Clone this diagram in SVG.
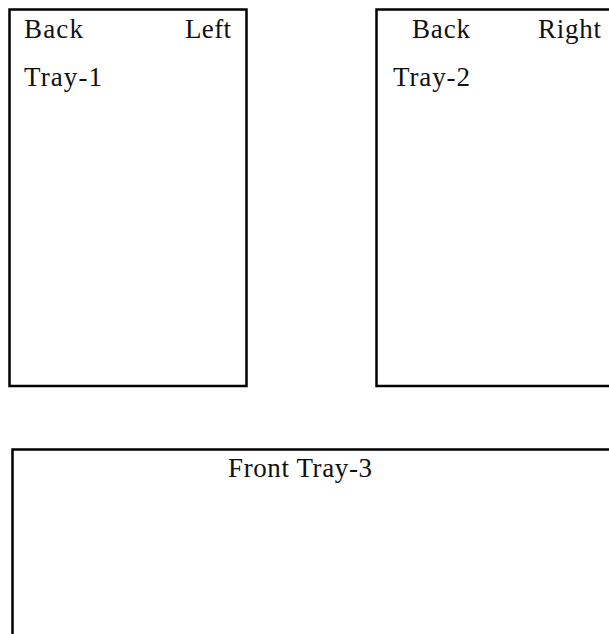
<svg xmlns="http://www.w3.org/2000/svg" width="609" height="634" viewBox="0 0 609 634">
<style>
.box{fill:none;stroke:#000;stroke-width:2.5}
.t{font-family:"Liberation Serif","Times New Roman",serif;font-size:27px;fill:#111}
</style>
<rect width="609" height="634" fill="#fff"/>
<g id="tray1">
<rect class="box" x="9.5" y="9.5" width="237" height="376.5"/>
<text class="t" x="24" y="38" textLength="59" lengthAdjust="spacing">Back</text>
<text class="t" x="185" y="38" textLength="46" lengthAdjust="spacing">Left</text>
<text class="t" x="24" y="86" textLength="78" lengthAdjust="spacing">Tray-1</text>
</g>
<g id="tray2">
<rect class="box" x="376.5" y="9.5" width="240" height="376.5"/>
<text class="t" x="412" y="38" textLength="58" lengthAdjust="spacing">Back</text>
<text class="t" x="538" y="38" textLength="63" lengthAdjust="spacing">Right</text>
<text class="t" x="393" y="86" textLength="77" lengthAdjust="spacing">Tray-2</text>
</g>
<g id="tray3">
<rect class="box" x="12.5" y="449.5" width="610" height="200"/>
<text class="t" x="228" y="477" textLength="144" lengthAdjust="spacing">Front Tray-3</text>
</g>
<g id="connectors"></g>
</svg>
